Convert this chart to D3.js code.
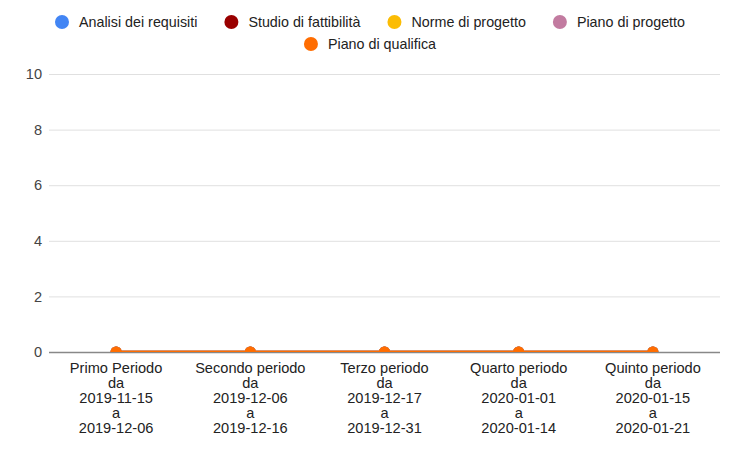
<!DOCTYPE html>
<html><head><meta charset="utf-8">
<script src="https://cdn.jsdelivr.net/npm/d3@7"></script>
<style>body{margin:0;background:#fff}svg{display:block;font-family:"Liberation Sans",Arial,sans-serif}</style>
</head><body>
<svg id="c" width="732" height="449"></svg>
<script>
const categories = [
  ["Primo Periodo","da","2019-11-15","a","2019-12-06"],
  ["Secondo periodo","da","2019-12-06","a","2019-12-16"],
  ["Terzo periodo","da","2019-12-17","a","2019-12-31"],
  ["Quarto periodo","da","2020-01-01","a","2020-01-14"],
  ["Quinto periodo","da","2020-01-15","a","2020-01-21"]
];
const seriesNames = ["Analisi dei requisiti","Studio di fattibilità","Norme di progetto","Piano di progetto","Piano di qualifica"];
const seriesColors = ["#4285f4","#990000","#fbbc04","#c27ba0","#ff6d01"];
const analisi = [0,0,0,0,0];
const studio = [0,0,0,0,0];
const norme = [0,0,0,0,0];
const pianoProgetto = [0,0,0,0,0];
const pianoQualifica = [0,0,0,0,0];
const yTicks = [0,2,4,6,8,10];

const FS = 14.6;
const seriesValues = [analisi, studio, norme, pianoProgetto, pianoQualifica];
const svg = d3.select("#c");
const L=49, R=720, T=74, B=352;
const x = d3.scaleBand().domain(d3.range(categories.length)).range([L,R]);
const y = d3.scaleLinear().domain([0,10]).range([B,T]);

const yAxis = d3.axisLeft(y).tickValues(yTicks).tickSize(-(R-L)).tickPadding(7);
const gy = svg.append("g").attr("transform",`translate(${L},0)`).call(yAxis)
  .attr("font-size",FS).attr("font-family","Liberation Sans, Arial, sans-serif");
gy.select(".domain").remove();
gy.selectAll(".tick line").attr("stroke", d=>d===0?"#888":"#e0e0e0").attr("stroke-width",d=>d===0?1.5:1);
gy.selectAll(".tick text").attr("fill","#444");

const xAxis = d3.axisBottom(x).tickSize(0).tickFormat(()=> "");
const gx = svg.append("g").attr("transform",`translate(0,${B})`).call(xAxis)
  .attr("font-size",FS).attr("font-family","Liberation Sans, Arial, sans-serif");
gx.select(".domain").remove();
gx.selectAll(".tick").each(function(d){
  const t = d3.select(this).append("text").attr("fill","#222")
    .attr("text-anchor","middle");
  categories[d].forEach((s,i)=>{
    t.append("tspan").attr("x",0).attr("y",21+i*15).text(s);
  });
});

svg.append("defs").append("clipPath").attr("id","clip").append("rect")
  .attr("x",L).attr("y",T-10).attr("width",R-L).attr("height",B-T+10);

const line = d3.line().x((d,i)=>x(i)+x.bandwidth()/2).y(d=>y(d));
const plot = svg.append("g").attr("clip-path","url(#clip)");
seriesValues.forEach((vals,si)=>{
  plot.append("path").datum(vals).attr("d",line).attr("fill","none")
    .attr("stroke",seriesColors[si]).attr("stroke-width",2.5);
  plot.selectAll(null).data(vals).enter().append("circle")
    .attr("cx",(d,i)=>x(i)+x.bandwidth()/2).attr("cy",d=>y(d)).attr("r",5.5)
    .attr("fill",seriesColors[si]);
});

const leg = svg.append("g").attr("font-size",14.3).attr("fill","#222")
  .attr("font-family","Liberation Sans, Arial, sans-serif");
const rows = [[0,1,2,3],[4]];
const meas = leg.append("text");
function tw(s){ meas.text(s); return meas.node().getComputedTextLength(); }
const rowY=[22,44];
const GAP=27, CT=17;
rows.forEach((r,ri)=>{
  const widths = r.map(i=>7+CT+tw(seriesNames[i]));
  const total = d3.sum(widths)+ (r.length-1)*GAP;
  let left = 370 - total/2;
  r.forEach((i,k)=>{
    const cx = left+7;
    leg.append("circle").attr("cx",cx).attr("cy",rowY[ri]).attr("r",7).attr("fill",seriesColors[i]);
    leg.append("text").attr("x",cx+CT).attr("y",rowY[ri]).attr("dy","0.35em").text(seriesNames[i]);
    left += widths[k]+GAP;
  });
});
meas.remove();
</script>
</body></html>
